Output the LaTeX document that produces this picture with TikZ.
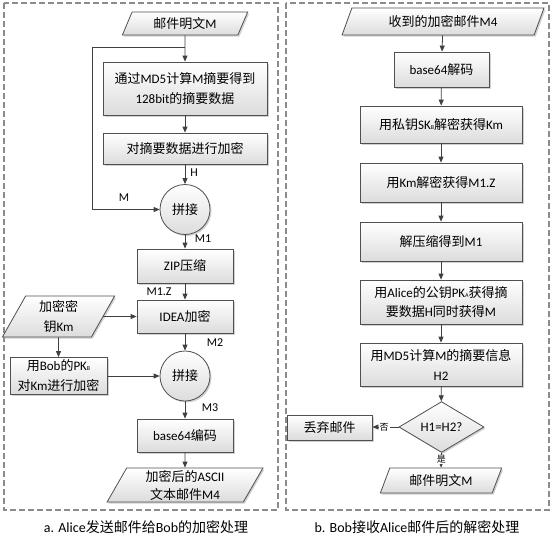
\documentclass[tikz,border=0pt]{standalone}
\usepackage{fontspec}
\setmainfont{Carlito}
\newfontfamily\cjk{Noto Sans CJK SC}
\usetikzlibrary{shapes.geometric,arrows.meta,shadows}
\newcommand\zh[1]{{\cjk #1}}
\newcommand\subB{{\fontsize{6}{6}\selectfont B}}
\newcommand\subA{{\fontsize{6}{6}\selectfont A}}
\definecolor{boxline}{HTML}{505050}
\definecolor{boxfill}{HTML}{DCDCDC}
\definecolor{arrowc}{HTML}{404040}
\definecolor{dashc}{HTML}{8C8C8C}
\tikzset{
  shape base/.style={draw=boxline, line width=0.8pt, top color=white, bottom color=boxfill,
    inner sep=1pt, align=center, font=\fontsize{13}{20}\selectfont,
    drop shadow={shadow xshift=1.5pt, shadow yshift=-1.5pt, fill=black!30, opacity=0.6}},
  box/.style={shape base, rectangle},
  para/.style={shape base, trapezium, trapezium left angle=67, trapezium right angle=113,
    trapezium stretches=true},
  circ/.style={shape base, circle, minimum size=50pt},
  dia/.style={shape base, diamond, inner sep=0pt},
  arr/.style={draw=arrowc, line width=0.8pt, -{Triangle[length=6pt,width=5pt]}},
  plain/.style={draw=arrowc, line width=0.8pt},
  lab/.style={inner sep=1pt, font=\fontsize{12}{12}\selectfont},
  tiny lab/.style={inner sep=1pt, fill=white, font=\fontsize{9}{9}\selectfont},
  dashbox/.style={draw=dashc, line width=1.1pt, dash pattern=on 6pt off 3pt},
  caption/.style={font=\fontsize{14}{14}\selectfont, inner sep=0pt}
}
\begin{document}
\begin{tikzpicture}[x=1pt,y=-1pt]
\useasboundingbox (0,0) rectangle (554,539);
\draw[dashbox] (4,3) rectangle (278,510);
\draw[dashbox] (286,3) rectangle (549,510);

% ---------- left panel ----------
\node[para, minimum width=126pt, minimum height=23pt] (a0) at (185,23.5) {\zh{邮件明文}M};
\node[box, minimum width=164pt, minimum height=53pt] (a1) at (185,88.5) {\zh{通过}MD5\zh{计算}M\zh{摘要得到}\\128bit\zh{的摘要数据}};
\node[box, minimum width=164pt, minimum height=31pt] (a2) at (185,148.5) {\zh{对摘要数据进行加密}};
\node[circ] (a3) at (185,209.5) {\zh{拼接}};
\node[box, minimum width=96pt, minimum height=34pt] (a4) at (185,266) {ZIP\zh{压缩}};
\node[box, minimum width=96pt, minimum height=33pt] (a5) at (185,316.5) {IDEA\zh{加密}};
\node[para, minimum width=113pt, minimum height=41pt] (a6) at (58.5,316.5) {\zh{加密密}\\\zh{钥}Km};
\node[box, minimum width=97pt, minimum height=37pt] (a7) at (58.5,376) {\zh{用}Bob\zh{的}PK\subB\\\zh{对}Km\zh{进行加密}};
\node[circ] (a8) at (185,376) {\zh{拼接}};
\node[box, minimum width=96pt, minimum height=33pt] (a9) at (185,435.5) {base64\zh{编码}};
\node[para, minimum width=156pt, minimum height=34pt, font=\fontsize{13}{18}\selectfont] (a10) at (185,485) {\zh{加密后的}ASCII\\\zh{文本邮件}M4};

\coordinate (fb) at (185,47);
\coordinate (fbl) at (92,47);
\draw[arr] (a0) -- (a1);
\draw[plain] (fb) -- (fbl);
\draw[arr] (fbl) |- (a3.west);
\node[lab] (lM) at (124,198) {M};
\draw[arr] (a1) -- (a2);
\draw[arr] (a2) -- (a3);
\node[lab] (lH) at (194,173) {H};
\draw[arr] (a3) -- (a4);
\node[lab] (lM1) at (203,239) {M1};
\draw[arr] (a4) -- (a5);
\node[lab] (lM1Z) at (159,292) {M1.Z};
\draw[arr] (a6.east) -- (a5.west |- a6.east);
\draw[arr] (a6.south) -- (a7.north);
\draw[arr] (a5) -- (a8);
\node[lab] (lM2) at (215,343) {M2};
\draw[arr] (a7) -- (a8);
\draw[arr] (a8) -- (a9);
\node[lab] (lM3) at (210,408) {M3};
\draw[arr] (a9) -- (a10);
\node[caption] (capa) at (146,527) {a. Alice\zh{发送邮件给}Bob\zh{的加密处理}};

% ---------- right panel ----------
\node[para, minimum width=202pt, minimum height=27pt] (b0) at (443,21.5) {\zh{收到的加密邮件}M4};
\node[box, minimum width=95pt, minimum height=35pt] (b1) at (441.5,69.5) {base64\zh{解码}};
\node[box, minimum width=162pt, minimum height=37pt] (b2) at (441,124.5) {\zh{用私钥}SK\subB\zh{解密获得}Km};
\node[box, minimum width=162pt, minimum height=39pt] (b3) at (441,182.5) {\zh{用}Km\zh{解密获得}M1.Z};
\node[box, minimum width=162pt, minimum height=39pt] (b4) at (441,241.5) {\zh{解压缩得到}M1};
\node[box, minimum width=162pt, minimum height=44pt, font=\fontsize{13}{19}\selectfont] (b5) at (441,302) {\zh{用}Alice\zh{的公钥}PK\subA\zh{获得摘}\\\zh{要数据}H\zh{同时获得}M};
\node[box, minimum width=162pt, minimum height=43pt] (b6) at (441,364.5) {\zh{用}MD5\zh{计算}M\zh{的摘要信息}\\H2};
\node[dia, minimum width=85pt, minimum height=42pt] (b7) at (441.5,427) {H1=H2?};
\node[box, minimum width=85pt, minimum height=25pt] (b8) at (329.5,427.5) {\zh{丢弃邮件}};
\node[para, minimum width=122pt, minimum height=25pt] (b9) at (441,480.5) {\zh{邮件明文}M};

\draw[arr] (b0) -- (b1);
\draw[arr] (b1) -- (b2);
\draw[arr] (b2) -- (b3);
\draw[arr] (b3) -- (b4);
\draw[arr] (b4) -- (b5);
\draw[arr] (b5) -- (b6);
\draw[arr] (b6) -- (b7);
\draw[arr] (b7.west) -- (b8.east |- b7.west) node[tiny lab, pos=0.55] {\zh{否}};
\draw[arr] (b7.south) -- (b9.north) node[tiny lab, pos=0.45] {\zh{是}};
\node[caption] (capb) at (417,527) {b. Bob\zh{接收}Alice\zh{邮件后的解密处理}};
\end{tikzpicture}
\end{document}
